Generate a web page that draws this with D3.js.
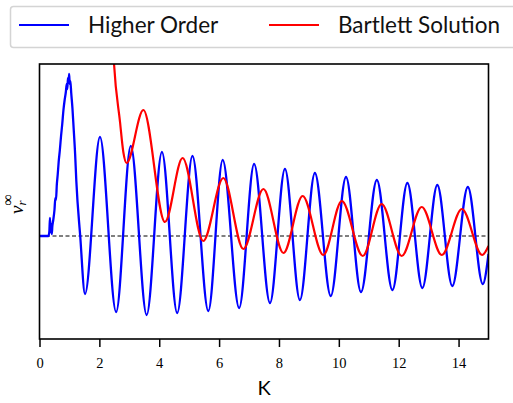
<!DOCTYPE html>
<html>
<head>
<script src="https://d3js.org/d3.v7.min.js"></script>
<style>
  body { margin: 0; background: #fff; }
  svg { display: block; }
</style>
</head>
<body>
<script>
// K values and v_r values (turning points + noisy start)
var higherK = [0, 0.30, 0.33, 0.35, 0.37, 0.39, 0.41, 0.43, 0.46, 0.50, 0.53, 0.55, 0.58, 0.61, 0.64, 0.68, 0.72, 0.76, 0.80, 0.84, 0.88, 0.91, 0.93, 0.95, 0.97, 0.99, 1.01, 1.03, 1.06, 1.10, 1.14, 1.19, 1.23, 1.36, 1.52,
  2.02, 2.56, 3.05, 3.58, 4.09, 4.60, 5.11, 5.64, 6.12, 6.67, 7.17, 7.70, 8.20, 8.70, 9.20, 9.73,
  10.24, 10.74, 11.27, 11.79, 12.29, 12.79, 13.29, 13.79, 14.31, 14.81, 15.0];
var higherV = [0, 0, 0.05, 0.18, 0.04, 0.12, 0.02, 0.10, 0.16, 0.26, 0.38, 0.36, 0.52, 0.62, 0.74, 0.86, 1.00, 1.12, 1.26, 1.36, 1.44, 1.52, 1.47, 1.58, 1.53, 1.62, 1.52, 1.55, 1.43, 1.28, 1.08, 0.82, 0.55, 0.0, -0.58,
  0.99, -0.76, 0.90, -0.79, 0.84, -0.77, 0.80, -0.75, 0.76, -0.72, 0.72, -0.67, 0.67, -0.64, 0.63, -0.60,
  0.59, -0.56, 0.56, -0.54, 0.53, -0.52, 0.51, -0.50, 0.49, -0.48, -0.18];

var bartlettK = [2.38, 2.49, 2.69, 2.80, 2.91, 3.47, 4.19, 4.78, 5.47, 6.14, 6.81, 7.48, 8.15, 8.79, 9.48,
  10.10, 10.80, 11.43, 12.10, 12.77, 13.44, 14.11, 14.79, 15.0];
var bartlettV = [2.40, 1.72, 1.14, 0.84, 0.73, 1.26, 0.14, 0.78, -0.05, 0.58, -0.13, 0.47, -0.17, 0.40, -0.19,
  0.35, -0.20, 0.32, -0.20, 0.29, -0.19, 0.27, -0.19, -0.10];

var xTicks = [0, 2, 4, 6, 8, 10, 12, 14];
var seriesNames = ["Higher Order", "Bartlett Solution"];
var seriesColors = ["#0000ff", "#ff0000"];

var width = 513, height = 403;
var margin = {top: 64, right: 24.5, bottom: 64, left: 39.5};

var svg = d3.select("body").append("svg")
    .attr("width", width)
    .attr("height", height);

var x = d3.scaleLinear().domain([0, 15]).range([margin.left, width - margin.right]);
var y = d3.scaleLinear().domain([-1.03, 1.72]).range([height - margin.bottom, margin.top]);

svg.append("clipPath").attr("id", "clip")
  .append("rect")
    .attr("x", margin.left).attr("y", margin.top)
    .attr("width", x(15) - x(0)).attr("height", y(-1.03) - y(1.72));

// zero line
svg.append("line")
    .attr("x1", x(0)).attr("x2", x(15))
    .attr("y1", y(0)).attr("y2", y(0))
    .attr("stroke", "#000")
    .attr("stroke-width", 1)
    .attr("stroke-dasharray", "4,2.5");

var line = d3.line()
    .x(function(d) { return x(d[0]); })
    .y(function(d) { return y(d[1]); })
    .curve(d3.curveMonotoneX);

var higher = higherK.map(function(k, i) { return [k, higherV[i]]; });
var bartlett = bartlettK.map(function(k, i) { return [k, bartlettV[i]]; });

var g = svg.append("g").attr("clip-path", "url(#clip)");
g.append("path").datum(higher)
    .attr("fill", "none").attr("stroke", seriesColors[0]).attr("stroke-width", 2.3)
    .attr("d", line);
g.append("path").datum(bartlett)
    .attr("fill", "none").attr("stroke", seriesColors[1]).attr("stroke-width", 2.2)
    .attr("d", line);

// frame
svg.append("rect")
    .attr("x", x(0)).attr("y", y(1.72))
    .attr("width", x(15) - x(0)).attr("height", y(-1.03) - y(1.72))
    .attr("fill", "none").attr("stroke", "#000").attr("stroke-width", 1.6);

// x axis
var xAxis = svg.append("g")
    .attr("transform", "translate(0," + y(-1.03) + ")")
    .call(d3.axisBottom(x).tickValues(xTicks).tickSize(8).tickPadding(11));
xAxis.select(".domain").remove();
xAxis.selectAll("line").attr("stroke-width", 1.5);
xAxis.selectAll("text")
    .style("font-family", "'Liberation Serif', serif")
    .style("font-size", "14.5px");

svg.append("text")
    .attr("x", (x(0) + x(15)) / 2)
    .attr("y", 395)
    .attr("text-anchor", "middle")
    .style("font-family", "Lato, sans-serif")
    .style("font-size", "20px")
    .text("K");

// y label
var yl = svg.append("text")
    .attr("transform", "translate(23," + 204 + ") rotate(-90)")
    .attr("text-anchor", "middle")
    .style("font-family", "'Liberation Serif', serif")
    .style("font-size", "19px");
yl.append("tspan").style("font-style", "italic").text("v");
yl.append("tspan").attr("dy", 3).style("font-style", "italic").style("font-size", "13px").text("r");
yl.append("tspan").attr("dx", -5).attr("dy", -13).style("font-size", "16px").text("∞");

// legend
var legend = svg.append("g");
legend.append("rect")
    .attr("x", 10.5).attr("y", 6.5)
    .attr("width", 520).attr("height", 41)
    .attr("rx", 3)
    .attr("fill", "#fff").attr("stroke", "#d4d4d4").attr("stroke-width", 1.5);
var legendX = [19, 269];
seriesNames.forEach(function(name, i) {
  legend.append("line")
      .attr("x1", legendX[i]).attr("x2", legendX[i] + 50)
      .attr("y1", 25).attr("y2", 25)
      .attr("stroke", seriesColors[i]).attr("stroke-width", 2);
  legend.append("text")
      .attr("x", legendX[i] + 69).attr("y", 33)
      .style("font-family", "Lato, sans-serif")
      .style("font-size", "22.5px")
      .attr("fill", "#111")
      .text(name);
});
</script>
</body>
</html>
